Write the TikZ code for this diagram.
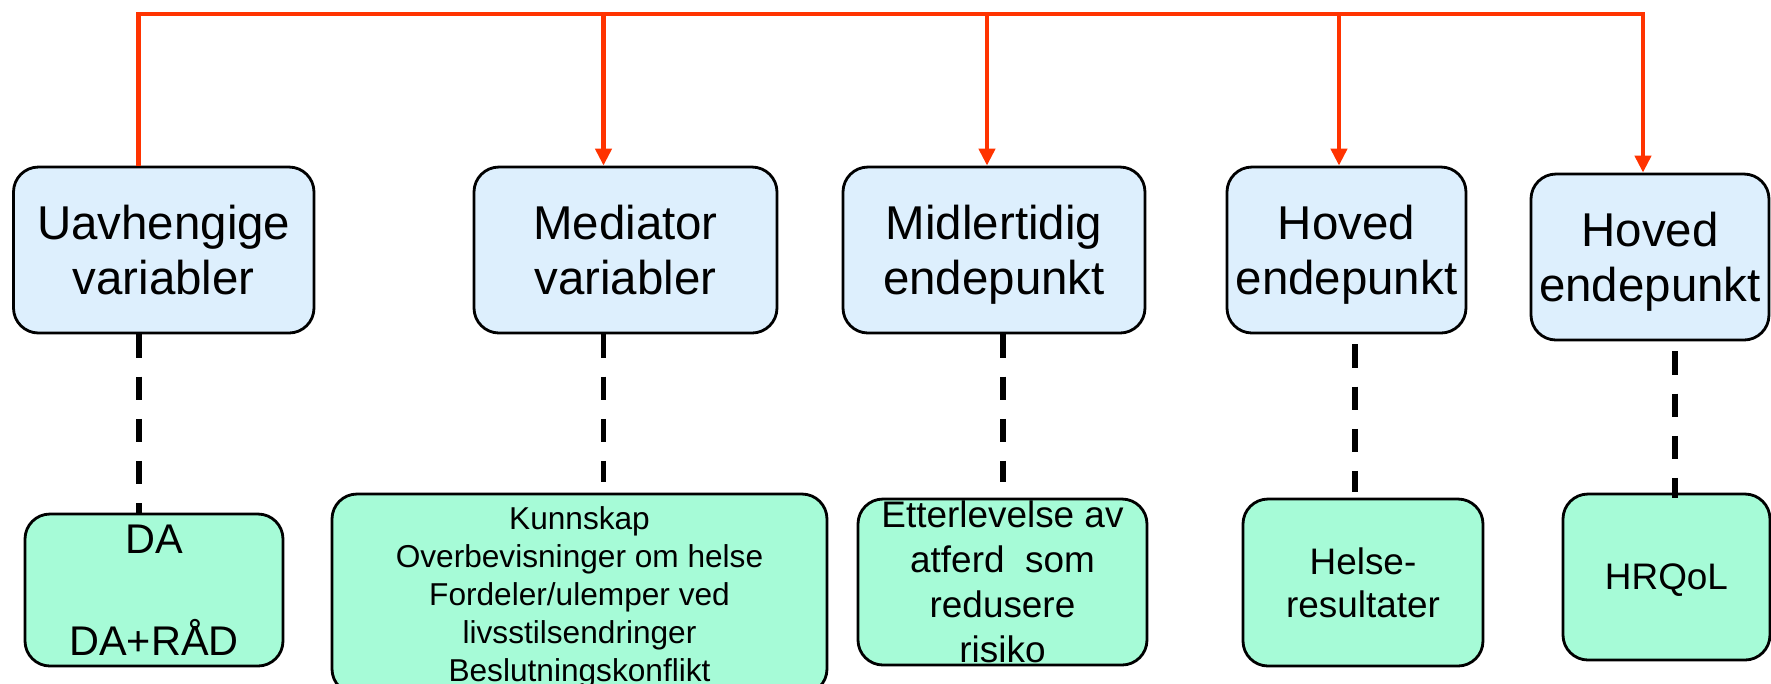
\documentclass[tikz,border=0pt]{standalone}
\usepackage{fontspec}
\setmainfont{Liberation Sans}
\usetikzlibrary{arrows.meta}

\definecolor{varblue}{RGB}{221,239,253}
\definecolor{valgreen}{RGB}{166,251,215}
\definecolor{busred}{RGB}{255,51,0}

\tikzset{
	varbox/.style={draw, line width=0.8pt, rounded corners=2.5mm, fill=varblue,
		minimum height=1.66cm, inner sep=0pt, align=center, text depth=0pt,
		font=\fontsize{13.5}{15.6}\selectfont},
	valbox/.style={draw, line width=0.8pt, rounded corners=2.5mm, fill=valgreen,
		inner sep=0pt, align=center, text depth=0pt},
	busline/.style={draw=busred, line width=1.4pt, line join=miter},
	feed/.style={busline, -{Triangle[length=1.7mm, width=1.6mm]}},
	link/.style={line width=1.7pt, dash pattern=on 6.7pt off 5.3pt}
}

\begin{document}
\begin{tikzpicture}
	\useasboundingbox (0,0) rectangle (17.71,-6.83);

	\node[varbox, minimum width=3.005cm] (uav) at (1.6375,-2.50) {Uavhengige\\variabler};
	\node[varbox, minimum width=3.03cm] (med) at (6.255,-2.50) {Mediator\\variabler};
	\node[varbox, minimum width=3.02cm] (mid) at (9.94,-2.50) {Midlertidig\\endepunkt};
	\node[varbox, minimum width=2.39cm] (hovA) at (13.465,-2.50) {Hoved\\endepunkt};
	\node[varbox, minimum width=2.38cm] (hovB) at (16.50,-2.57) {Hoved\\endepunkt};

	\node[valbox, minimum width=2.58cm, minimum height=1.52cm,
		font=\fontsize{11.8}{14.5}\selectfont] (da) at (1.54,-5.90) {DA\\[14.5pt]DA+RÅD};
	\node[valbox, minimum width=4.95cm, minimum height=2.00cm,
		font=\fontsize{9}{10.8}\selectfont] (kun) at (5.795,-5.94)
		{Kunnskap\\Overbevisninger om helse\\Fordeler/ulemper ved\\livsstilsendringer\\Beslutningskonflikt};
	\node[valbox, minimum width=2.89cm, minimum height=1.66cm,
		font=\fontsize{10.5}{12.8}\selectfont] (ett) at (10.025,-5.82)
		{Etterlevelse av\\atferd\ \ som\\redusere\\risiko};
	\node[valbox, minimum width=2.40cm, minimum height=1.67cm,
		font=\fontsize{10.5}{12.2}\selectfont] (hel) at (13.63,-5.825) {Helse-\\resultater};
	\node[valbox, minimum width=2.07cm, minimum height=1.66cm,
		font=\fontsize{10.5}{12.6}\selectfont] (hrq) at (16.665,-5.77) {HRQoL};

	\coordinate (bus) at (0,-0.14);
	\path ([xshift=-2.5mm]uav.north) coordinate (uavup);
	\path ([xshift=-2.2mm]med.north) coordinate (medin);
	\path ([xshift=-0.7mm]mid.north) coordinate (midin);
	\path ([xshift=-0.75mm]hovA.north) coordinate (hovAin);
	\path ([xshift=-0.7mm]hovB.north) coordinate (hovBin);

	\draw[feed] (uavup) -- (uavup |- bus) -| (hovBin);
	\foreach \n in {medin,midin,hovAin}
		\draw[feed] (\n |- bus) -- (\n);

	\path ([xshift=-2.5mm]uav.south) coordinate (uavout);
	\path ([xshift=-2.2mm]med.south) coordinate (medout);
	\path ([xshift=0.9mm]mid.south) coordinate (midout);
	\path ([xshift=0.85mm]hovA.south) coordinate (hovAout);
	\path ([xshift=2.5mm]hovB.south) coordinate (hovBout);

	\draw[link] (uavout) -- (uavout |- da.north);
	\draw[link, shorten >=1.1mm] (medout) -- (medout |- kun.north);
	\draw[link, shorten >=1.6mm] (midout) -- (midout |- ett.north);
	\draw[link, shorten <=1mm, shorten >=0.6mm] (hovAout) -- (hovAout |- hel.north);
	\draw[link, shorten <=1mm, shorten >=-0.5mm] (hovBout) -- (hovBout |- hrq.north);
\end{tikzpicture}
\end{document}
